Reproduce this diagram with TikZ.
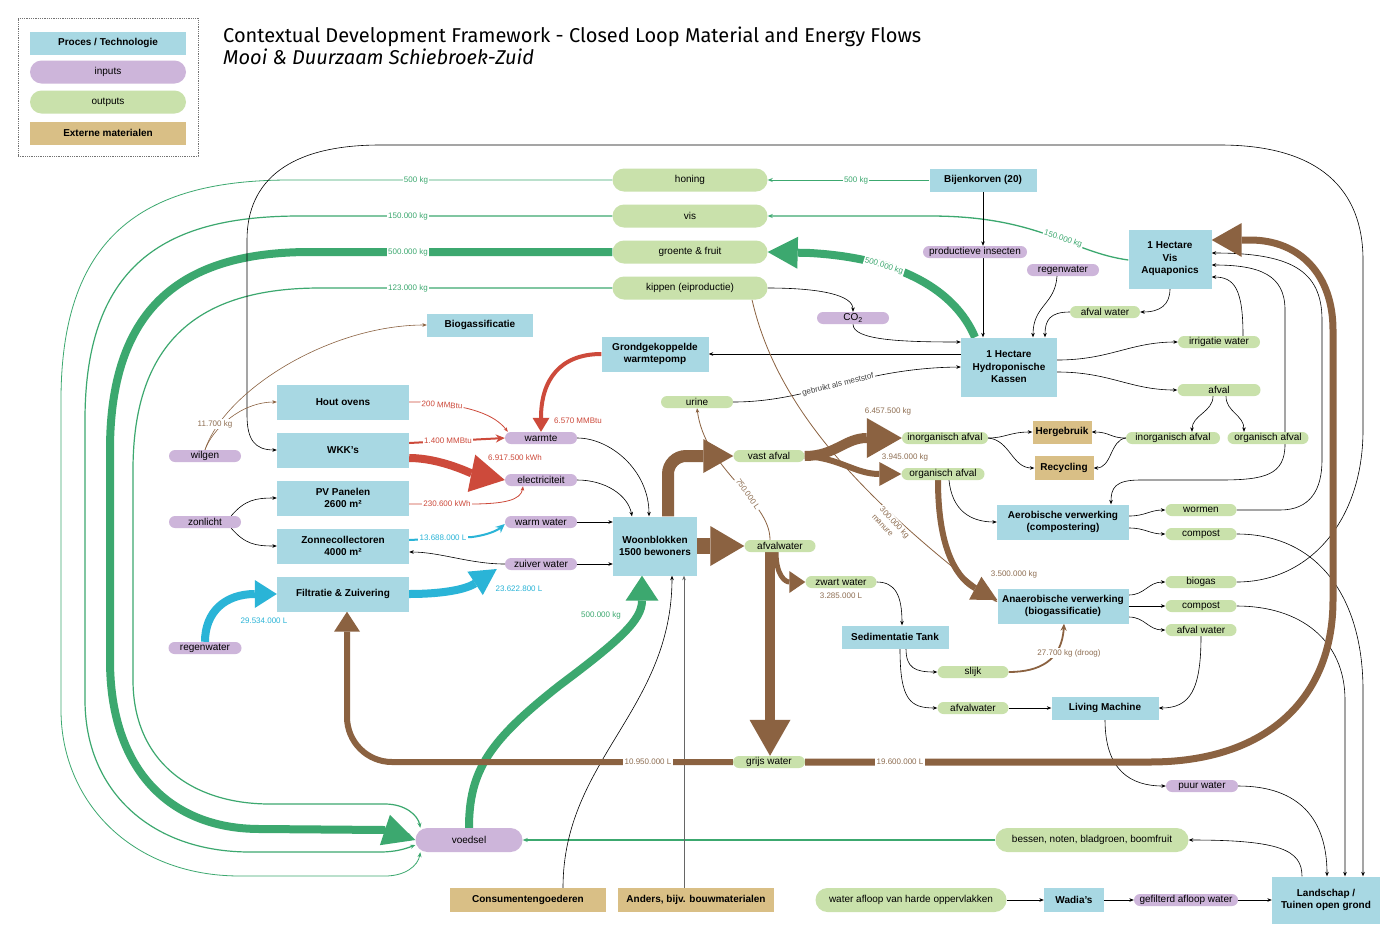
\documentclass[tikz,border=0pt]{standalone}
\usepackage{fontspec}
\setmainfont{Liberation Sans}
\newfontfamily\titlefont{Fira Sans}
\usetikzlibrary{arrows.meta}
\pgfdeclarelayer{bg}
\pgfdeclarelayer{paper}
\pgfsetlayers{paper,bg,main}
\definecolor{procblue}{HTML}{A8D8E3}
\definecolor{inpurple}{HTML}{CDB5DA}
\definecolor{outgreen}{HTML}{C9E1AB}
\definecolor{exttan}{HTML}{D9BF86}
\definecolor{lgreen}{HTML}{3CA86F}
\definecolor{lbrown}{HTML}{8B6241}
\definecolor{lred}{HTML}{CD4A3B}
\definecolor{lcyan}{HTML}{2AB4D7}
\definecolor{labbrown}{HTML}{8E6E52}
\begin{document}
\begin{tikzpicture}[x=1pt,y=1pt,
 every node/.style={font=\fontsize{10}{12.5}\selectfont, inner sep=0pt, align=center},
 proc/.style={fill=procblue, font=\bfseries\fontsize{10}{12.5}\selectfont},
 ext/.style={fill=exttan, font=\bfseries\fontsize{10}{12.5}\selectfont, minimum height=24pt},
 inp/.style={fill=inpurple, rounded corners=6pt, minimum height=12pt},
 outp/.style={fill=outgreen, rounded corners=6pt, minimum height=12pt},
 bigout/.style={fill=outgreen, rounded corners=11.5pt, minimum height=23pt},
 blk/.style={draw=black, line width=0.6pt, -{Stealth[length=4.5pt,width=3.6pt]}},
 gry/.style={draw=black!60, line width=0.7pt, -{Stealth[length=4.5pt,width=3.6pt]}},
 gthin/.style={draw=lgreen, -{Stealth[length=5pt,width=4pt]}},
 bthin/.style={draw=lbrown, line width=0.7pt, -{Stealth[length=4.5pt,width=3.6pt]}},
 rthin/.style={draw=lred, line width=0.8pt, -{Stealth[length=4.5pt,width=3.6pt]}},
 bigtip/.style 2 args={-{Triangle[length=#1,width=#2,line width=0pt]}},
 lab/.style={font=\fontsize{8}{9}\selectfont, inner sep=1.2pt},
 labw/.style={lab, fill=white}
]
\useasboundingbox (0,0) rectangle (1400,-951);
\begin{pgfonlayer}{paper}
\fill[white] (0,0) rectangle (1400,-951);
\end{pgfonlayer}

% legend
\node[draw=black!55, densely dotted, line width=0.8pt, minimum width=180pt, minimum height=138pt] (legend) at (108,-87) {};
\node[proc, minimum width=156pt, minimum height=23pt] (lgproc) at (108,-43) {Proces / Technologie};
\node[inp, rounded corners=11.5pt, minimum width=156pt, minimum height=23pt] (lginp) at (108,-72) {inputs};
\node[outp, rounded corners=11.5pt, minimum width=156pt, minimum height=23pt] (lgout) at (108,-102) {outputs};
\node[ext, minimum width=156pt, minimum height=23pt] (lgext) at (108,-133) {Externe materialen};

% title
\node[anchor=base west, font=\titlefont\fontsize{20}{24}\selectfont] (title) at (223,-42) {Contextual Development Framework - Closed Loop Material and Energy Flows};
\node[anchor=base west, font=\titlefont\itshape\fontsize{20}{24}\selectfont] (subtitle) at (223,-64) {Mooi \& Duurzaam Schiebroek-Zuid};

% nodes
\node[bigout, minimum width=155pt] (honing) at (690,-180) {honing};
\node[bigout, minimum width=155pt] (vis) at (690,-216) {vis};
\node[bigout, minimum width=155pt] (groente) at (690,-252) {groente \& fruit};
\node[bigout, minimum width=155pt] (kippen) at (690,-288) {kippen (eiproductie)};
\node[proc, minimum width=107pt, minimum height=23pt] (bijen) at (983,-180) {Bijenkorven (20)};
\node[inp, minimum width=104pt] (insect) at (975,-252) {productieve insecten};
\node[inp, minimum width=72pt] (regen1) at (1063,-270) {regenwater};
\node[proc, minimum width=83pt, minimum height=59pt] (aqua) at (1170,-259) {1 Hectare\\Vis\\Aquaponics};
\node[outp, minimum width=70pt] (afwat1) at (1105,-312) {afval water};
\node[outp, minimum width=82pt] (irrig) at (1219,-342) {irrigatie water};
\node[proc, minimum width=96pt, minimum height=59pt] (kassen) at (1009,-367) {1 Hectare\\Hydroponische\\Kassen};
\node[outp, minimum width=83pt] (afval) at (1219,-390) {afval};
\node[inp, minimum width=72pt] (co2) at (853,-318) {CO\textsubscript{2}};
\node[proc, minimum width=106pt, minimum height=23pt] (biogass) at (480,-325) {Biogassificatie};
\node[proc, minimum width=107pt, minimum height=35pt] (warmtepomp) at (655,-354) {Grondgekoppelde\\warmtepomp};
\node[outp, minimum width=72pt] (urine) at (697,-402) {urine};
\node[proc, minimum width=132pt, minimum height=35pt] (hout) at (343,-402) {Hout ovens};
\node[proc, minimum width=132pt, minimum height=35pt] (wkk) at (343,-450) {WKK’s};
\node[proc, minimum width=132pt, minimum height=35pt] (pv) at (343,-498) {PV Panelen\\2600 m²};
\node[proc, minimum width=132pt, minimum height=35pt] (zonnec) at (343,-546) {Zonnecollectoren\\4000 m²};
\node[proc, minimum width=132pt, minimum height=35pt] (filtr) at (343,-594) {Filtratie \& Zuivering};
\node[inp, minimum width=72pt] (wilgen) at (205,-456) {wilgen};
\node[inp, minimum width=72pt] (zonlicht) at (205,-522) {zonlicht};
\node[inp, minimum width=73pt] (regen2) at (205,-648) {regenwater};
\node[inp, minimum width=72pt] (warmte) at (541,-438) {warmte};
\node[inp, minimum width=72pt] (elec) at (541,-480) {electriciteit};
\node[inp, minimum width=72pt] (warmw) at (541,-522) {warm water};
\node[inp, minimum width=72pt] (zuiver) at (541,-564) {zuiver water};
\node[proc, minimum width=84pt, minimum height=59pt] (woon) at (655,-546) {Woonblokken\\1500 bewoners};
\node[outp, minimum width=71pt] (vast) at (769,-456) {vast afval};
\node[outp, minimum width=71pt] (afwat2) at (780,-546) {afvalwater};
\node[outp, minimum width=86pt] (inorg1) at (945,-438) {inorganisch afval};
\node[outp, minimum width=83pt] (org1) at (943,-474) {organisch afval};
\node[ext, minimum width=59pt, minimum height=23pt] (herg) at (1062,-432) {Hergebruik};
\node[ext, minimum width=59pt] (recyc) at (1064,-468) {Recycling};
\node[outp, minimum width=94pt] (inorg2) at (1173,-438) {inorganisch afval};
\node[outp, minimum width=81pt] (org2) at (1268,-438) {organisch afval};
\node[proc, minimum width=132pt, minimum height=35pt] (aerob) at (1063,-522) {Aerobische verwerking\\(compostering)};
\node[outp, minimum width=71pt] (worm) at (1201,-510) {wormen};
\node[outp, minimum width=71pt] (comp1) at (1201,-534) {compost};
\node[proc, minimum width=131pt, minimum height=35pt] (anaer) at (1063,-606) {Anaerobische verwerking\\(biogassificatie)};
\node[outp, minimum width=71pt] (biogas) at (1201,-582) {biogas};
\node[outp, minimum width=71pt] (comp2) at (1201,-606) {compost};
\node[outp, minimum width=71pt] (afwat3) at (1201,-630) {afval water};
\node[outp, minimum width=71pt] (zwart) at (841,-582) {zwart water};
\node[proc, minimum width=107pt, minimum height=23pt] (sedim) at (895,-637) {Sedimentatie Tank};
\node[outp, minimum width=71pt] (slijk) at (973,-672) {slijk};
\node[outp, minimum width=71pt] (afwat4) at (973,-708) {afvalwater};
\node[proc, minimum width=107pt, minimum height=23pt] (living) at (1105,-708) {Living Machine};
\node[outp, minimum width=72pt] (grijs) at (769,-762) {grijs water};
\node[inp, minimum width=72pt] (puur) at (1202,-786) {puur water};
\node[inp, rounded corners=12pt, minimum width=107pt, minimum height=24pt] (voedsel) at (469,-840) {voedsel};
\node[outp, rounded corners=12pt, minimum width=193pt, minimum height=24pt] (bessen) at (1092,-840) {bessen, noten, bladgroen, boomfruit};
\node[ext, minimum width=156pt] (consu) at (528,-900) {Consumentengoederen};
\node[ext, minimum width=156pt] (anders) at (696,-900) {Anders, bijv. bouwmaterialen};
\node[outp, rounded corners=12pt, minimum width=191pt, minimum height=24pt] (waterafl) at (911,-900) {water afloop van harde oppervlakken};
\node[proc, minimum width=60pt, minimum height=24pt] (wadia) at (1074,-900) {Wadia’s};
\node[inp, minimum width=104pt] (gefilt) at (1186,-900) {gefilterd afloop water};
\node[proc, minimum width=108pt, minimum height=47pt] (landsch) at (1326,-900) {Landschap /\\Tuinen open grond};

\begin{pgfonlayer}{bg}
% green food loops
\draw[gthin, line width=0.8pt] (honing.west) -- (290,-180) .. controls (150,-180) and (61,-230) .. (61,-400) -- (61,-710) .. controls (61,-800) and (130,-876) .. (240,-876) -- (385,-876) .. controls (405,-876) and (418,-866) .. ([xshift=5pt]voedsel.south west);
\draw[gthin, line width=1.2pt] (vis.west) -- (300,-216) .. controls (170,-216) and (85,-260) .. (85,-420) -- (85,-700) .. controls (85,-790) and (150,-852) .. (250,-852) -- (380,-852) .. controls (395,-852) and (405,-849) .. ([yshift=-5pt]voedsel.west);
\draw[lgreen, line width=8pt, bigtip={32pt}{32pt}] (groente.west) -- (310,-252) .. controls (190,-252) and (110,-300) .. (110,-450) -- (110,-660) .. controls (110,-770) and (170,-829) .. (260,-829) -- (385,-830) -- (voedsel.west);
\draw[gthin, line width=1.2pt] (kippen.west) -- (320,-288) .. controls (200,-288) and (133,-340) .. (133,-470) -- (133,-680) .. controls (133,-760) and (190,-804) .. (270,-804) -- (385,-804) .. controls (405,-804) and (418,-815) .. ([xshift=5pt]voedsel.north west);
\draw[gthin, line width=1.2pt] (bessen.west) -- (voedsel.east);
\draw[gthin, line width=0.9pt] (bijen.west) -- (honing.east);
\draw[gthin, line width=1.3pt] ([yshift=-1pt]aqua.west) .. controls (1070,-252) and (1040,-216) .. (930,-216) -- (vis.east);
\draw[lgreen, line width=8pt, bigtip={30pt}{32pt}] ([xshift=-34pt]kassen.north) .. controls (955,-290) and (900,-258) .. (810,-253) -- (groente.east);
\draw[lgreen, line width=8pt, bigtip={25pt}{33pt}] (voedsel.north) .. controls (469,-770) and (490,-740) .. (560,-685) .. controls (620,-640) and (642,-620) .. ([xshift=-13pt]woon.south);

% black top loop biogas -> WKK
\draw[blk] (biogas.east) .. controls (1310,-582) and (1363,-520) .. (1363,-430) -- (1363,-260) .. controls (1363,-190) and (1320,-145) .. (1220,-145) -- (380,-145) .. controls (290,-145) and (247,-180) .. (247,-240) -- (247,-415) .. controls (247,-440) and (255,-450) .. (wkk.west);

% woonblokken inputs
\draw[blk] (warmte.east) .. controls (610,-438) and (649,-470) .. ([xshift=-6pt]woon.north);
\draw[blk] (elec.east) .. controls (605,-480) and (628,-495) .. ([xshift=-23pt]woon.north);
\draw[blk] (warmw.east) -- (woon.west |- warmw.east);
\draw[blk] (zuiver.east) -- (woon.west |- zuiver.east);
\draw[blk] (zuiver.west) .. controls (470,-564) and (440,-552) .. ([yshift=-6pt]zonnec.east);
\draw[blk] ([xshift=35pt]consu.north) .. controls (563,-760) and (672,-710) .. ([xshift=17pt]woon.south);
\draw[gry] ([xshift=-12pt]anders.north) -- ([xshift=29pt]woon.south);
\draw[blk] ([xshift=-10pt]zonlicht.north east) .. controls (245,-500) and (255,-498) .. (pv.west);
\draw[blk] ([xshift=-10pt]zonlicht.south east) .. controls (245,-544) and (255,-546) .. (zonnec.west);

% greenhouse area
\draw[blk] (bijen.south) -- ([xshift=8pt]insect.north);
\draw[blk] ([xshift=8pt]insect.south) -- ([xshift=-26pt]kassen.north);
\draw[blk] ([xshift=-6pt]regen1.south) .. controls (1055,-305) and (1033,-305) .. ([xshift=24pt]kassen.north);
\draw[blk] (aqua.south) .. controls (1170,-305) and (1160,-312) .. (afwat1.east);
\draw[blk] (afwat1.west) .. controls (1050,-312) and (1045,-320) .. ([xshift=36pt]kassen.north);
\draw[blk] (kippen.east) .. controls (820,-288) and (853,-295) .. (co2.north);
\draw[blk] (co2.south) .. controls (853,-340) and (900,-342) .. ([yshift=25pt]kassen.west);
\draw[blk] ([yshift=13pt]kassen.west) -- (warmtepomp.east);
\draw[blk] (urine.east) .. controls (810,-402) and (860,-368) .. node[labw, sloped, pos=0.5, text=black!75] (lmest) {gebruikt als meststof} (kassen.west);
\draw[blk] ([yshift=7pt]kassen.east) .. controls (1110,-360) and (1130,-342) .. (irrig.west);
\draw[blk] ([yshift=-5pt]kassen.east) .. controls (1110,-372) and (1130,-390) .. (afval.west);
\draw[blk] ([xshift=24pt]irrig.north) .. controls (1243,-290) and (1235,-277) .. ([yshift=-18pt]aqua.east);
\draw[blk] ([xshift=17pt]org2.north) -- (1285,-310) .. controls (1285,-275) and (1260,-265) .. ([yshift=-6pt]aqua.east);
\draw[blk] (worm.east) -- (1280,-510) .. controls (1310,-510) and (1322,-490) .. (1322,-460) -- (1322,-320) .. controls (1322,-270) and (1290,-253) .. ([yshift=6pt]aqua.east);
\draw[blk] ([xshift=17pt]org2.south) .. controls (1285,-475) and (1265,-480) .. (1220,-480) -- (1140,-480) .. controls (1115,-480) and (1111,-488) .. ([xshift=48pt]aerob.north);
\draw[blk] ([xshift=-6pt]afval.south) .. controls (1213,-412) and (1192,-415) .. ([xshift=19pt]inorg2.north);
\draw[blk] ([xshift=7pt]afval.south) .. controls (1226,-412) and (1244,-415) .. ([xshift=-24pt]org2.north);
\draw[blk] (inorg2.west) .. controls (1110,-438) and (1110,-432) .. (herg.east);
\draw[blk] (inorg2.west) .. controls (1110,-440) and (1112,-468) .. (recyc.east);
\draw[blk] (inorg1.east) .. controls (1005,-438) and (1010,-432) .. (herg.west);
\draw[blk] (inorg1.east) .. controls (1010,-440) and (1012,-468) .. (recyc.west);
\draw[blk] ([xshift=6pt]org1.south) .. controls (952,-510) and (970,-522) .. (aerob.west);
\draw[blk] ([yshift=6pt]aerob.east) .. controls (1145,-516) and (1150,-510) .. (worm.west);
\draw[blk] ([yshift=-6pt]aerob.east) .. controls (1145,-528) and (1150,-534) .. (comp1.west);
\draw[blk] ([yshift=11pt]anaer.east) .. controls (1145,-595) and (1148,-582) .. (biogas.west);
\draw[blk] (anaer.east) -- (comp2.west);
\draw[blk] ([yshift=-11pt]anaer.east) .. controls (1145,-617) and (1148,-630) .. (afwat3.west);
\draw[blk] (comp1.east) .. controls (1320,-534) and (1363,-600) .. (1363,-690) -- ([xshift=37pt]landsch.north);
\draw[blk] (comp2.east) .. controls (1300,-606) and (1345,-640) .. (1345,-700) -- ([xshift=19pt]landsch.north);
\draw[blk] (puur.east) .. controls (1300,-786) and (1327,-820) .. ([xshift=1pt]landsch.north);
\draw[blk] ([xshift=-24pt]landsch.north) .. controls (1302,-850) and (1280,-840) .. (bessen.east);
\draw[blk] (afwat3.south) .. controls (1201,-690) and (1190,-708) .. (living.east);
\draw[blk] (living.south) .. controls (1105,-770) and (1130,-786) .. (puur.west);
\draw[blk] (zwart.east) .. controls (895,-582) and (902,-595) .. ([xshift=7pt]sedim.north);
\draw[blk] ([xshift=11pt]sedim.south) .. controls (906,-668) and (915,-672) .. (slijk.west);
\draw[blk] ([xshift=5pt]sedim.south) .. controls (900,-700) and (910,-708) .. (afwat4.west);
\draw[blk] (afwat4.east) -- (living.west);
\draw[blk] (waterafl.east) -- (wadia.west);
\draw[blk] (wadia.east) -- (gefilt.west);
\draw[blk] (gefilt.east) -- (landsch.west);

% brown flows
\draw[lbrown, line width=12pt, rounded corners=18pt, bigtip={30pt}{34pt}] ([xshift=13pt]woon.north) |- (vast.west);
\draw[lbrown, line width=16pt, bigtip={34pt}{40pt}] (woon.east) -- (afwat2.west);
\draw[lbrown, line width=10pt, bigtip={35pt}{40pt}] (vast.east) .. controls (835,-456) and (845,-438) .. (inorg1.west);
\draw[lbrown, line width=6pt, bigtip={22pt}{24pt}] (vast.east) .. controls (840,-458) and (855,-474) .. (org1.west);
\draw[lbrown, line width=10pt, bigtip={36pt}{41pt}] ([xshift=-10pt]afwat2.south) -- ([xshift=1pt]grijs.north);
\draw[lbrown, line width=5pt, bigtip={16pt}{22pt}] ([xshift=-4pt]afwat2.south) .. controls (776,-575) and (785,-582) .. (zwart.west);
\draw[lbrown, line width=6pt, rounded corners=45pt, bigtip={20pt}{26pt}] (grijs.west) -| ([xshift=4pt]filtr.south);
\draw[lbrown, line width=7pt, bigtip={30pt}{34pt}] (grijs.east) -- (1150,-762) .. controls (1265,-762) and (1333,-700) .. (1333,-600) -- (1333,-330) .. controls (1333,-275) and (1300,-240) .. (1250,-240) -- ([yshift=19pt]aqua.east);
\draw[lbrown, line width=6pt, bigtip={25pt}{26pt}] ([xshift=-5pt]org1.south) .. controls (938,-555) and (960,-580) .. ([yshift=6pt]anaer.west);
\draw[bthin, line width=0.8pt] ([xshift=62pt]kippen.south) .. controls (775,-400) and (850,-490) .. ([yshift=4pt]anaer.west);
\draw[bthin, line width=0.8pt] ([xshift=-10pt]afwat2.north) .. controls (770,-500) and (705,-470) .. (urine.south);
\draw[lbrown, line width=1.8pt, -{Stealth[length=7pt,width=6pt]}] (slijk.east) .. controls (1040,-672) and (1062,-660) .. ([xshift=1pt]anaer.south);
\draw[bthin, line width=0.6pt] (wilgen.north) .. controls (212,-430) and (240,-402) .. (hout.west);
\draw[bthin, line width=0.6pt] (wilgen.north) .. controls (225,-390) and (330,-325) .. (biogass.west);

% red flows
\draw[rthin] (hout.east) -- (420,-402) .. controls (470,-405) and (495,-415) .. ([xshift=3pt]warmte.north west);
\draw[lred, line width=2pt, -{Stealth[length=9pt,width=8pt]}] ([yshift=7pt]wkk.east) -- (warmte.west);
\draw[lred, line width=8pt, bigtip={34pt}{38pt}] ([yshift=-8pt]wkk.east) .. controls (440,-458) and (470,-473) .. (elec.west);
\draw[rthin] ([yshift=-6pt]pv.east) -- (470,-504) .. controls (505,-504) and (521,-500) .. ([xshift=-18pt]elec.south);
\draw[lred, line width=4pt, bigtip={14pt}{17pt}] (warmtepomp.west) .. controls (560,-354) and (541,-380) .. (warmte.north);

% cyan flows
\draw[lcyan, line width=2pt, -{Stealth[length=9pt,width=8pt]}] ([yshift=6pt]zonnec.east) -- (472,-537) .. controls (488,-535) and (498,-530) .. ([yshift=-2pt]warmw.west);
\draw[lcyan, line width=8pt, bigtip={26pt}{28pt}] (filtr.east) .. controls (440,-594) and (465,-590) .. ([xshift=-8pt,yshift=-5pt]zuiver.west);
\draw[lcyan, line width=8pt, bigtip={22pt}{28pt}] (regen2.north) .. controls (205,-612) and (225,-594) .. (filtr.west);
\end{pgfonlayer}

% labels
\node[labw, text=lgreen] (l500a) at (416,-180) {500 kg};
\node[labw, text=lgreen] (l150a) at (408,-216) {150.000 kg};
\node[labw, text=lgreen] (l500b) at (408,-252) {500.000 kg};
\node[labw, text=lgreen] (l123) at (408,-288) {123.000 kg};
\node[labw, text=lgreen] (l500c) at (856,-180) {500 kg};
\node[labw, text=lgreen, rotate=-18] (l150b) at (1063,-239) {150.000 kg};
\node[labw, text=lgreen, rotate=-17] (l500d) at (884,-266) {500.000 kg};
\node[lab, text=lgreen] (l500e) at (601,-615) {500.000 kg};
\node[labw, text=labbrown] (l117) at (215,-424) {11.700 kg};
\node[lab, text=labbrown] (l6457) at (888,-411) {6.457.500 kg};
\node[lab, text=labbrown] (l3945) at (905,-457) {3.945.000 kg};
\node[lab, text=labbrown] (l3500) at (1014,-574) {3.500.000 kg};
\node[labw, text=labbrown, rotate=-55] (l750) at (748,-494) {750.000 L};
\node[labw, text=labbrown, rotate=-47, align=left, font=\fontsize{8}{10.5}\selectfont] (l300) at (891,-526) {300.000 kg\\manure};
\node[lab, text=labbrown] (l3285) at (841,-596) {3.285.000 L};
\node[labw, text=labbrown] (l277) at (1069,-653) {27.700 kg (droog)};
\node[labw, text=labbrown] (l10950) at (648,-762) {10.950.000 L};
\node[labw, text=labbrown] (l19600) at (900,-762) {19.600.000 L};
\node[labw, text=lred, rotate=-4] (l200) at (442,-405) {200 MMBtu};
\node[labw, text=lred] (l1400) at (448,-441) {1.400 MMBtu};
\node[lab, text=lred] (l6917) at (515,-458) {6.917.500 kWh};
\node[labw, text=lred] (l2306) at (447,-504) {230.600 kWh};
\node[lab, text=lred] (l6570) at (578,-421) {6.570 MMBtu};
\node[labw, text=lcyan] (l13688) at (443,-538) {13.688.000 L};
\node[lab, text=lcyan] (l23622) at (519,-589) {23.622.800 L};
\node[lab, text=lcyan] (l29534) at (264,-621) {29.534.000 L};
\end{tikzpicture}
\end{document}
